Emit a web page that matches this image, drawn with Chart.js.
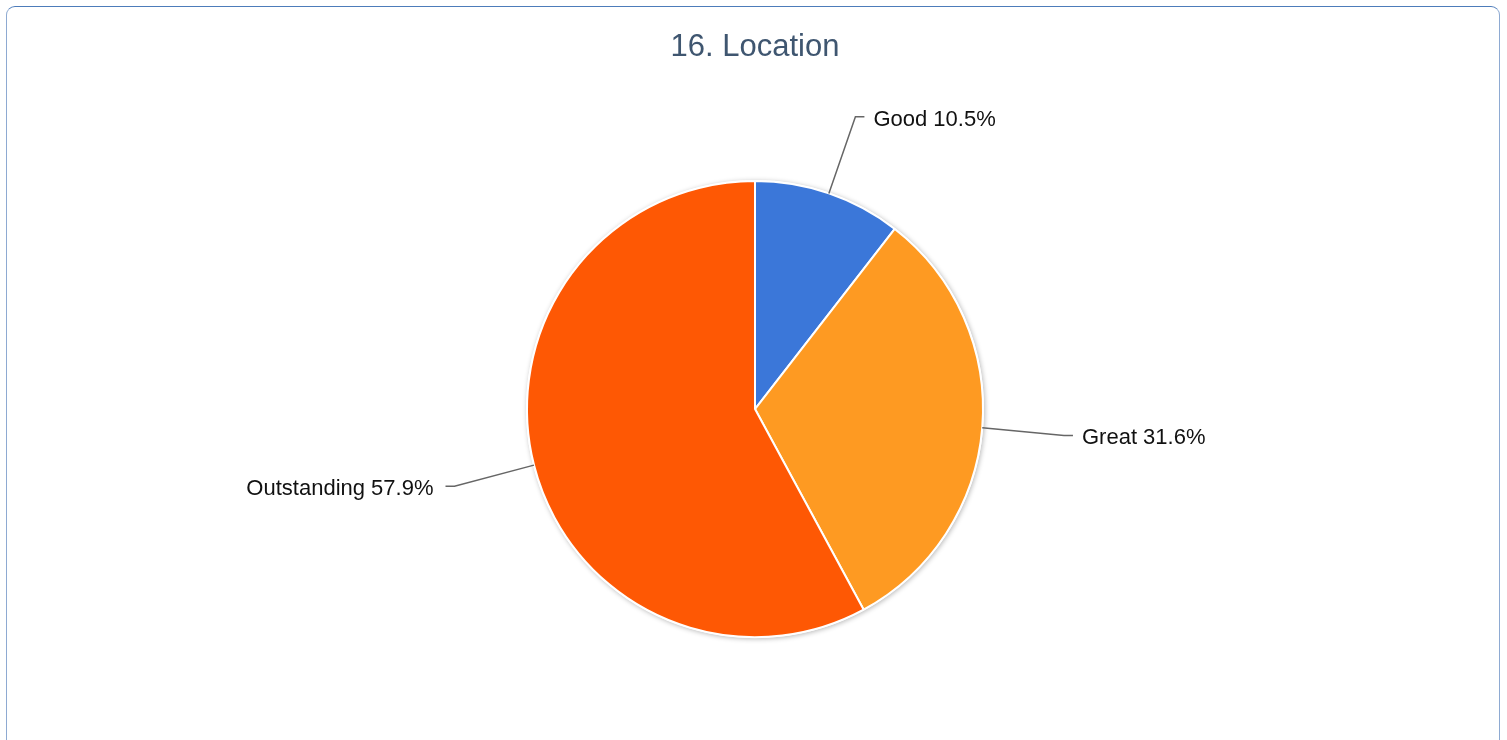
<!DOCTYPE html>
<html>
<head>
<meta charset="utf-8">
<title>16. Location</title>
<script src="https://cdn.jsdelivr.net/npm/chart.js@4/dist/chart.umd.min.js"></script>
<style>
  html, body { margin: 0; padding: 0; background: #fff; overflow: hidden; }
  body { width: 1507px; height: 740px; position: relative; }
  .frame {
    position: absolute; left: 6px; top: 6px; width: 1494px; height: 760px;
    border: 1px solid #8eaad2; border-top-color: #4d7cba; border-radius: 9px;
    box-sizing: border-box;
  }
  #wrap { position: absolute; left: 0; top: 0; width: 1507px; height: 740px; }
</style>
</head>
<body>
<div class="frame"></div>
<div id="wrap"><canvas id="chart"></canvas></div>
<script>
"use strict";

const TITLE = "16. Location";
const CATEGORIES = ["Good", "Great", "Outstanding"];
const VALUES = [10.5, 31.6, 57.9];
const SLICE_COLORS = ["#3b77d9", "#fe9a22", "#fe5804"];

const FONT = '"Liberation Sans", Arial, sans-serif';

// leader lines + labels, positioned from each arc's own geometry
const leaderLabels = {
  id: "leaderLabels",
  afterDatasetsDraw(chart) {
    const ctx = chart.ctx;
    const meta = chart.getDatasetMeta(0);
    ctx.save();
    ctx.font = `22px ${FONT}`;
    ctx.textBaseline = "middle";
    meta.data.forEach((arc, i) => {
      const { x, y, startAngle, endAngle, outerRadius } = arc.getProps(["x", "y", "startAngle", "endAngle", "outerRadius"], true);
      const mid = (startAngle + endAngle) / 2;
      const cos = Math.cos(mid), sin = Math.sin(mid);
      const x0 = x + cos * outerRadius, y0 = y + sin * outerRadius;
      const rElbow = outerRadius + 82;
      const x1 = x + cos * rElbow, y1 = y + sin * rElbow + 1;
      const right = cos >= 0;
      const x2 = x1 + (right ? 9 : -9);
      ctx.strokeStyle = "#666";
      ctx.lineWidth = 1.5;
      ctx.beginPath();
      ctx.moveTo(x0, y0);
      ctx.lineTo(x1, y1);
      ctx.lineTo(x2, y1);
      ctx.stroke();
      ctx.fillStyle = "#111";
      ctx.textAlign = right ? "left" : "right";
      ctx.fillText(`${CATEGORIES[i]} ${VALUES[i].toFixed(1)}%`, x2 + (right ? 9 : -12), y1 + 3);
    });
    ctx.restore();
  },
};

// soft shadow behind the pie
const pieShadow = {
  id: "pieShadow",
  beforeDatasetsDraw(chart) {
    const arc = chart.getDatasetMeta(0).data[0];
    if (!arc) return;
    const { x, y, outerRadius } = arc.getProps(["x", "y", "outerRadius"], true);
    const ctx = chart.ctx;
    ctx.save();
    ctx.shadowColor = "rgba(0,0,0,0.28)";
    ctx.shadowBlur = 5;
    ctx.shadowOffsetX = 1;
    ctx.shadowOffsetY = 1;
    ctx.fillStyle = "#fff";
    ctx.beginPath();
    ctx.arc(x, y, outerRadius + 1, 0, Math.PI * 2);
    ctx.fill();
    ctx.restore();
  },
};

new Chart(document.getElementById("chart"), {
  type: "pie",
  data: {
    labels: CATEGORIES,
    datasets: [{
      data: VALUES,
      backgroundColor: SLICE_COLORS,
      borderColor: "#fff",
      borderWidth: 2,
      radius: 228,
    }],
  },
  options: {
    responsive: true,
    maintainAspectRatio: false,
    animation: false,
    layout: { padding: { left: 3, right: 0, top: 0, bottom: 1 } },
    plugins: {
      legend: { display: false },
      tooltip: { enabled: false },
      title: {
        display: true,
        text: TITLE,
        color: "#3f5670",
        font: { family: FONT, size: 31, weight: "normal" },
        padding: { top: 29, bottom: 13 },
      },
    },
  },
  plugins: [pieShadow, leaderLabels],
});
</script>
</body>
</html>
